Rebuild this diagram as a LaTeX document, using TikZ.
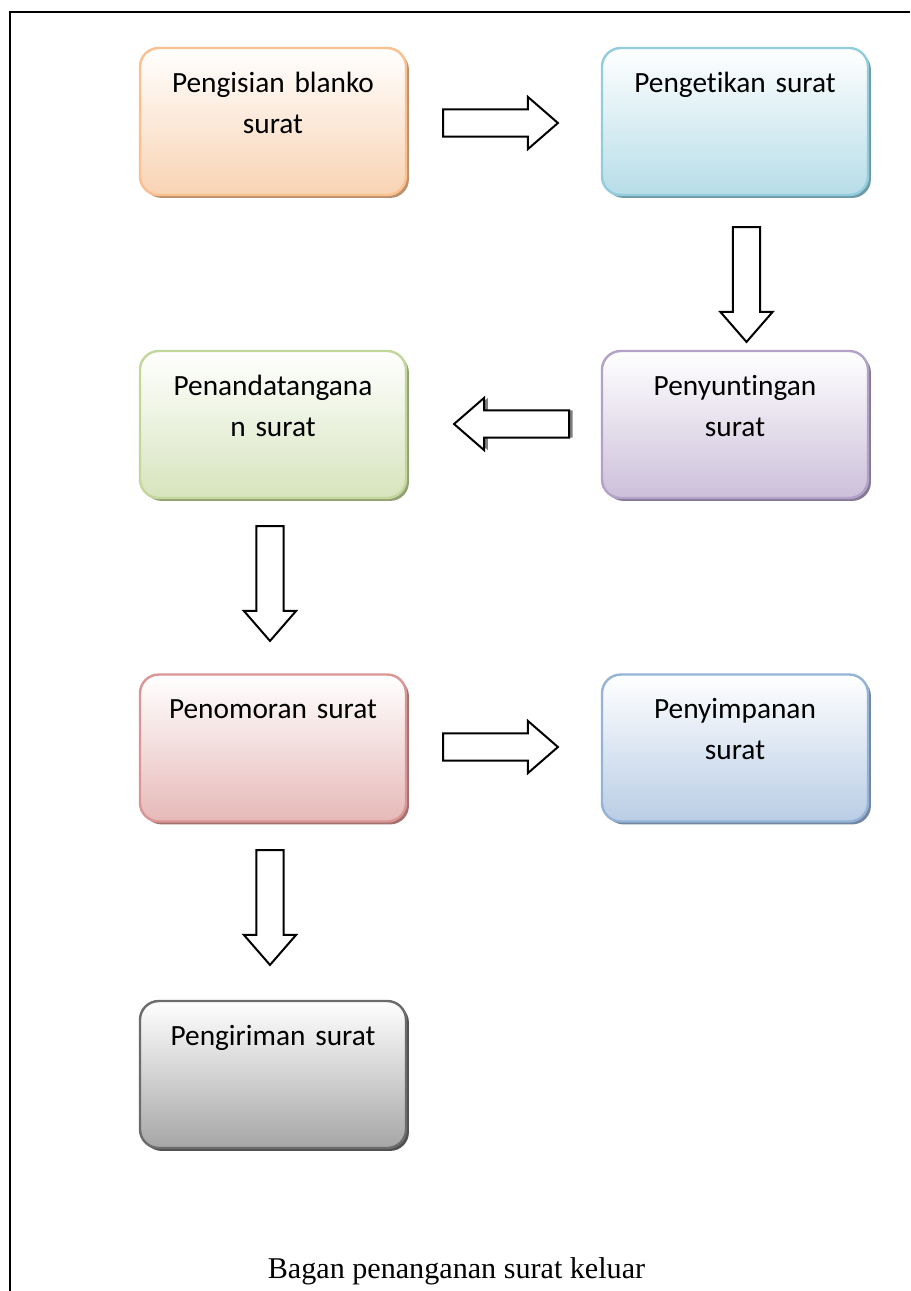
\documentclass[tikz,border=0pt]{standalone}
\usepackage{fontspec}
\usepackage{tikz}
\usetikzlibrary{positioning, shapes.arrows, shadows}
\newfontfamily\carlito{Carlito}[Ligatures=NoCommon]
\newfontfamily\timesfont{Liberation Serif}

\definecolor{orangeline}{HTML}{FAC090}
\definecolor{orangefill}{HTML}{F9D3B3}
\definecolor{aqualine}{HTML}{93CDDD}
\definecolor{aquafill}{HTML}{B7DDE8}
\definecolor{purpleline}{HTML}{B3A2C7}
\definecolor{purplefill}{HTML}{CCC0DA}
\definecolor{greenline}{HTML}{C3D69B}
\definecolor{greenfill}{HTML}{D7E4BD}
\definecolor{redline}{HTML}{D99694}
\definecolor{redfill}{HTML}{E6B9B8}
\definecolor{blueline}{HTML}{95B3D7}
\definecolor{bluefill}{HTML}{B9CDE5}
\definecolor{greyline}{HTML}{6C6C6C}
\definecolor{greyfill}{HTML}{A6A6A6}

\begin{document}
\begin{tikzpicture}[
    x=0.375pt, y=-0.375pt,
    box/.style={rectangle, rounded corners=7pt, line width=0.9pt,
        minimum width=99.75pt, minimum height=55.1pt, inner sep=0pt,
        text width=95pt, align=center, text height=16.5pt, text depth=38.6pt,
        font=\carlito\fontsize{11pt}{15.4pt}\selectfont},
    stage/.style 2 args={box, draw=#1, top color=white, bottom color=#2,
        drop shadow={shadow xshift=1.1pt, shadow yshift=-1.1pt, opacity=1, fill=#1!75!black}},
    blockarrow/.style={single arrow, draw, fill=white, line width=0.75pt,
        minimum height=43.1pt, inner xsep=0pt, inner ysep=4.7pt, anchor=tail,
        single arrow head extend=4.7pt, single arrow tip angle=82}
]
    \useasboundingbox (0,0) rectangle (910,1291);
    \draw[line width=1pt] (10,1291) -- (10,12) -- (910,12);

    \node[stage={orangeline}{orangefill}] (isi) at (273,121.5) {Pengisian blanko\\surat};
    \node[stage={aqualine}{aquafill}] (ketik) at (735,121.5) {Pengetikan surat};
    \node[stage={greenline}{greenfill}] (tanda) at (273,424.5) {Penandatangana\\n surat};
    \node[stage={purpleline}{purplefill}] (sunting) at (735,424.5) {Penyuntingan\\surat};
    \node[stage={redline}{redfill}] (nomor) at (273,748) {Penomoran surat};
    \node[stage={blueline}{bluefill}] (simpan) at (735,748) {Penyimpanan\\surat};
    \node[stage={greyline}{greyfill}] (kirim) at (273,1074.5) {Pengiriman surat};

    % tails of the block arrows
    \node[blockarrow] (isi-ketik) at (442,123) {};
    \node[blockarrow, rotate=-90] (ketik-sunting) at (746.5,226) {};
    \node[blockarrow, rotate=180,
        drop shadow={shadow xshift=1.4pt, shadow yshift=0pt, opacity=1, fill=gray}] (sunting-tanda) at (570,424) {};
    \node[blockarrow, rotate=-90] (tanda-nomor) at (270,525) {};
    \node[blockarrow] (nomor-simpan) at (442,747) {};
    \node[blockarrow, rotate=-90] (nomor-kirim) at (270,849) {};

    \node[font=\timesfont\fontsize{11.3pt}{14pt}\selectfont, anchor=base] (judul) at (456.5,1278) {Bagan penanganan surat keluar};
\end{tikzpicture}
\end{document}
